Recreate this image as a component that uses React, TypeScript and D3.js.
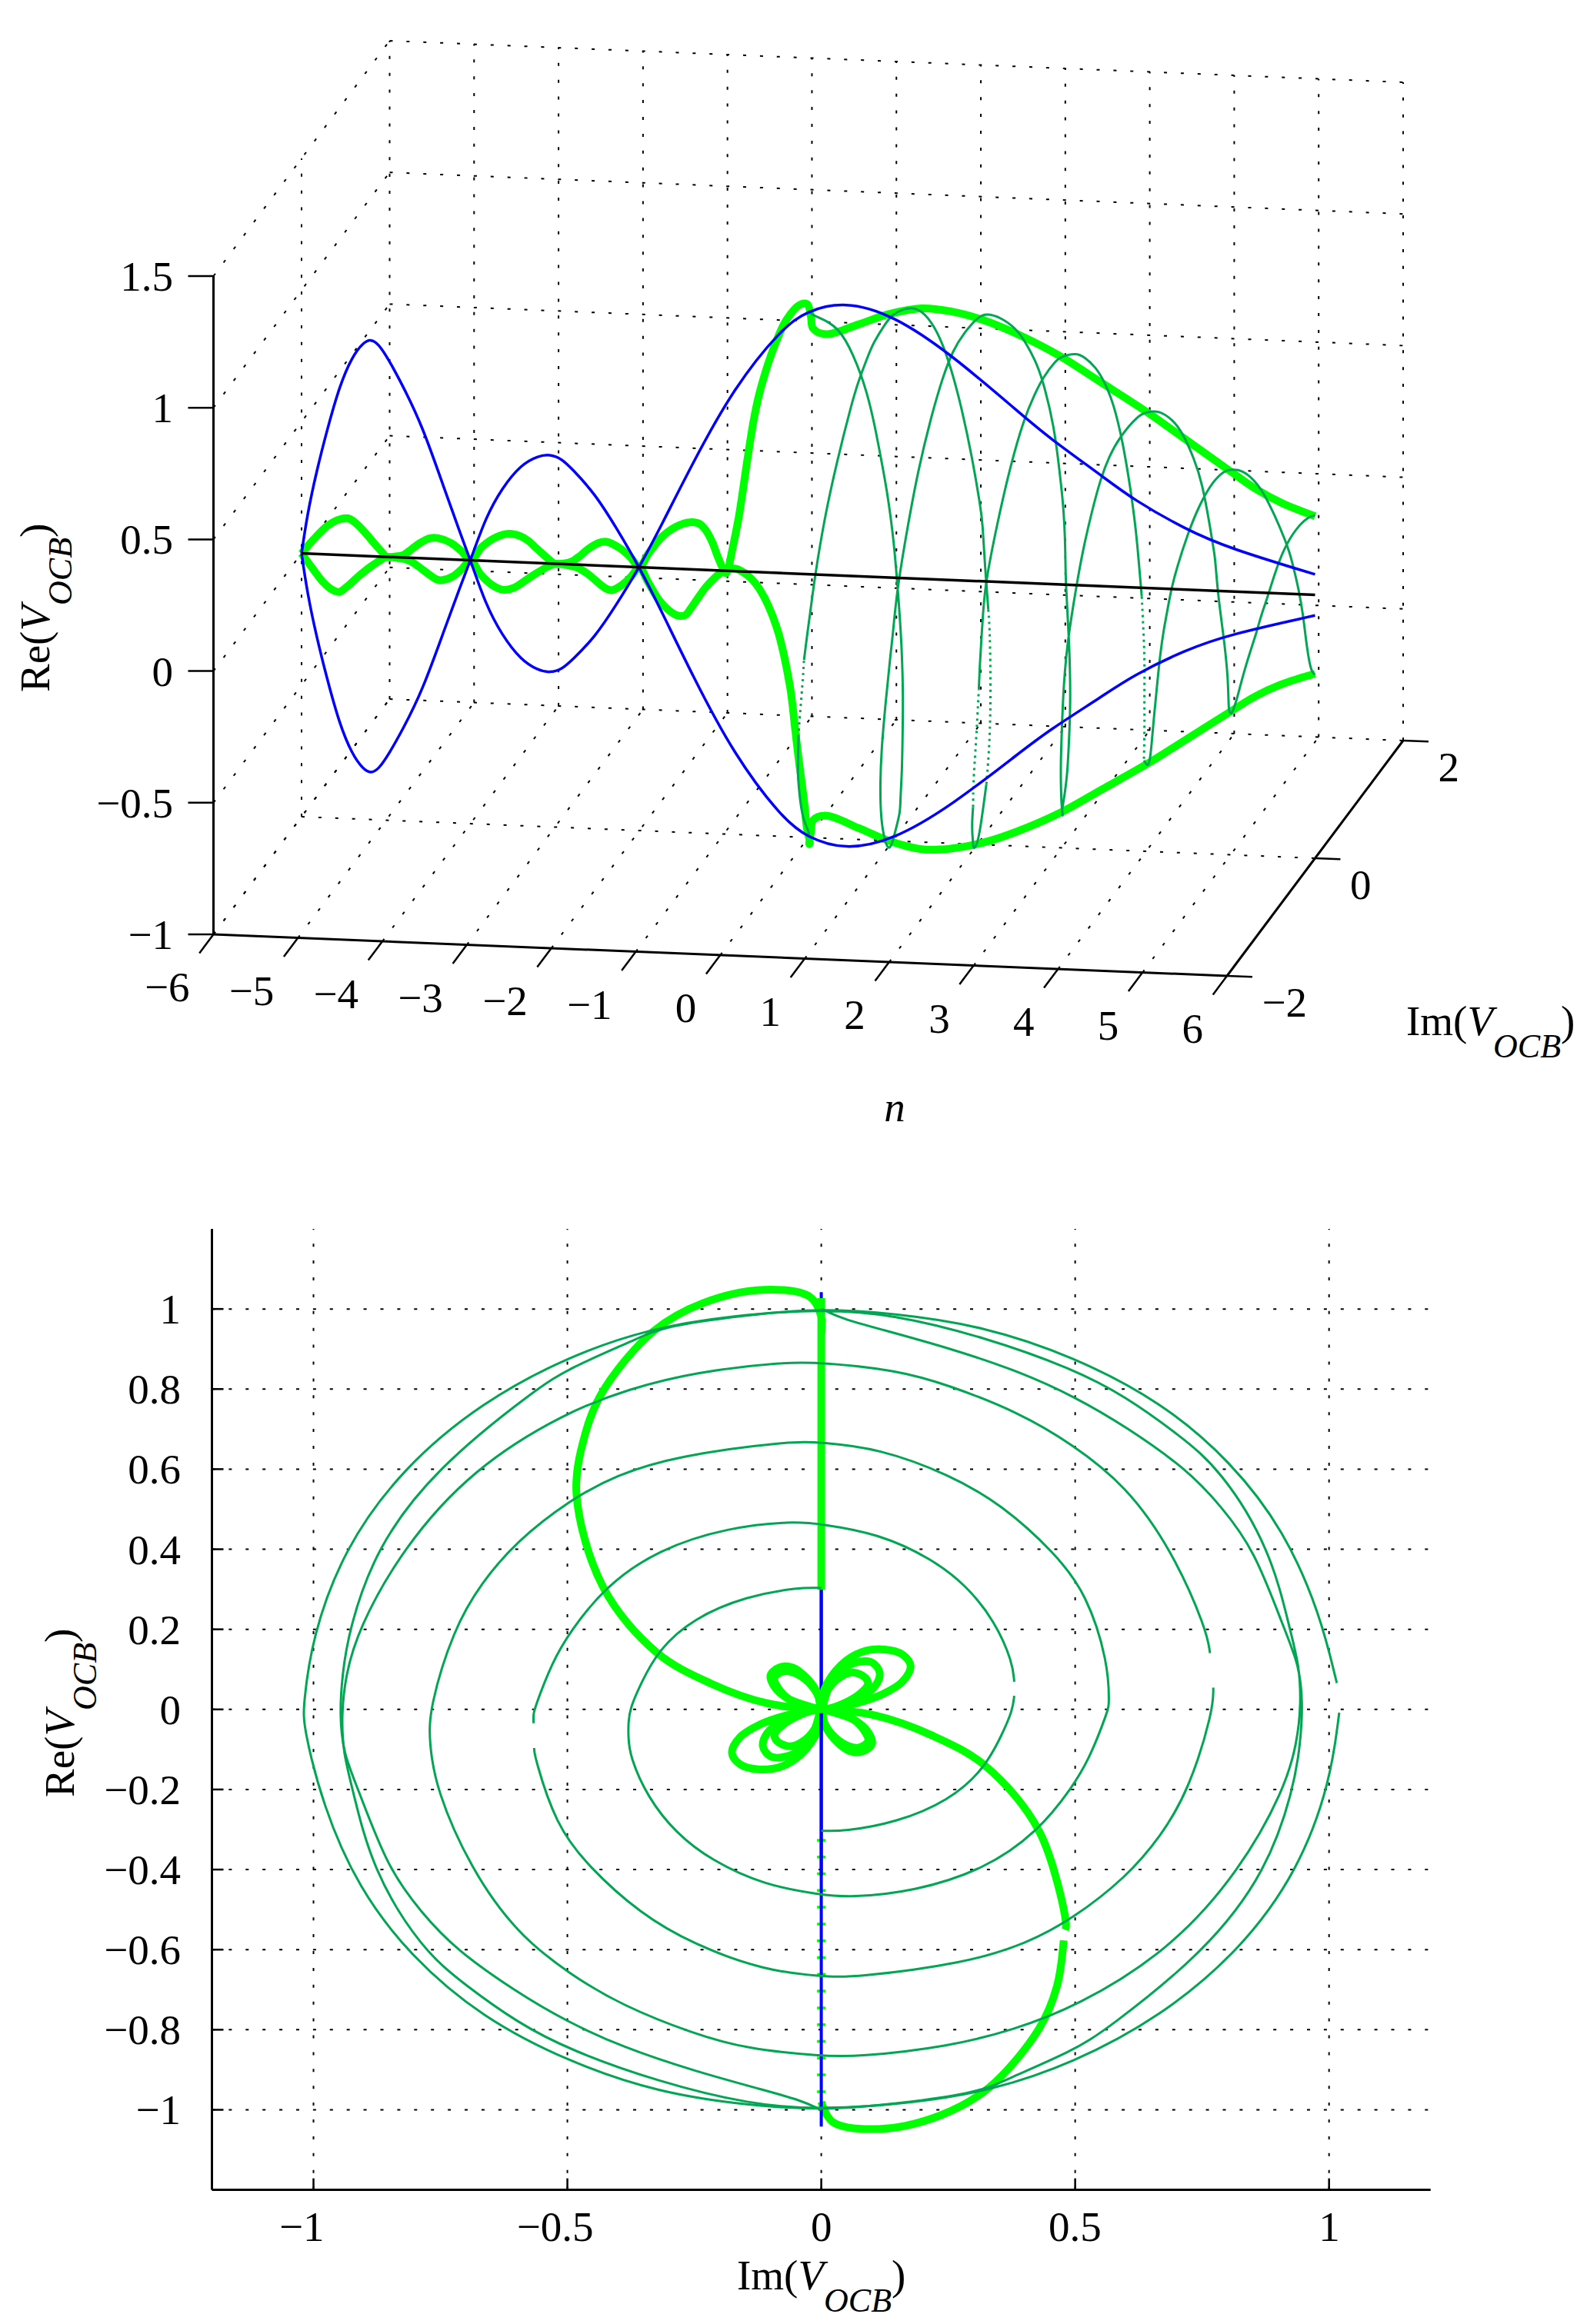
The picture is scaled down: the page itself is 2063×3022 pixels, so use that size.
import React from "react";
import * as d3 from "d3";

// samples are [n, Im, Re]
type P = number[];

const nTicks = [-6, -5, -4, -3, -2, -1, 0, 1, 2, 3, 4, 5, 6];
const imTicks3d = [-2, 0, 2];
const reTicks3d = [-1, -0.5, 0, 0.5, 1, 1.5];
const imTicks2d = [-1, -0.5, 0, 0.5, 1];
const reTicks2d = [-1, -0.8, -0.6, -0.4, -0.2, 0, 0.2, 0.4, 0.6, 0.8, 1];

// blue envelope (Im = 0), the lower one is its negative
const blueN = [-6, -5.93, -5.82, -5.7, -5.55, -5.4, -5.27, -5.18, -5.09, -4.98, -4.8, -4.57, -4.31, -4.12, -4,
  -3.82, -3.63, -3.4, -3.2, -3.06, -2.92, -2.8, -2.53, -2.27, -2, -1.74, -1.373, -0.882, -0.312, -0.016, 0.43, 0.994,
  1.687, 2.525, 2.844, 3.49, 3.836, 4.47, 4.99, 6];
const blueRe = [0, 0.153, 0.317, 0.47, 0.643, 0.756, 0.81, 0.825, 0.808, 0.756, 0.652, 0.503, 0.268, 0.1, 0,
  -0.165, -0.278, -0.372, -0.407, -0.415, -0.4, -0.364, -0.274, -0.145, 0, 0.162, 0.402, 0.697, 0.93, 1.0, 1.042, 0.999,
  0.859, 0.639, 0.557, 0.416, 0.336, 0.228, 0.163, 0.078];

// thick green, upper branch: lobes for n < -1, sweep to (0, 1), then on the Im = 0 line
const lobe1: P[] = [[-6, 0, 0], [-5.87, 0.011, 0.05], [-5.72, 0.039, 0.098], [-5.6, 0.069, 0.1175], [-5.5, 0.0996, 0.1175],
  [-5.4, 0.115, 0.092], [-5.28, 0.105, 0.0566], [-5.15, 0.069, 0.0246], [-5.04, 0.024, 0.005], [-5, 0, 0]];
const lobe2: P[] = [[-4.88, -0.0267, 0.0086], [-4.76, -0.062, 0.0246], [-4.65, -0.0847, 0.0534], [-4.55, -0.0923, 0.079],
  [-4.44, -0.0746, 0.095], [-4.36, -0.0544, 0.0919], [-4.22, -0.0267, 0.0695], [-4.1, -0.0065, 0.0342], [-4, 0, 0]];
const lobe3: P[] = [[-3.87, 0.0137, 0.05], [-3.72, 0.039, 0.082], [-3.58, 0.064, 0.092], [-3.45, 0.087, 0.079],
  [-3.37, 0.092, 0.063], [-3.25, 0.074, 0.037], [-3.13, 0.044, 0.015], [-3.05, 0.019, 0.0035], [-3, 0, 0]];
const lobe4: P[] = [[-2.88, -0.0267, 0.0086], [-2.76, -0.067, 0.0278], [-2.65, -0.0923, 0.0566], [-2.55, -0.0999, 0.0855],
  [-2.44, -0.082, 0.1047], [-2.36, -0.057, 0.1047], [-2.22, -0.0267, 0.0759], [-2.1, -0.0065, 0.0374], [-2, 0, 0]];
const lobe5: P[] = [[-1.9, 0.006, 0.05], [-1.75, 0.039, 0.111], [-1.6, 0.079, 0.143], [-1.47, 0.125, 0.1496], [-1.37, 0.16, 0.137],
  [-1.3, 0.176, 0.108], [-1.22, 0.16, 0.0695], [-1.15, 0.12, 0.0374], [-1.08, 0.069, 0.015], [-1.02, 0.019, 0.002], [-1, 0, 0]];
const sweep: P[] = [[-0.92, -0.106, 0.015], [-0.83, -0.218, 0.065], [-0.74, -0.324, 0.142], [-0.6, -0.429, 0.304], [-0.47, -0.482, 0.537],
  [-0.4, -0.464, 0.692], [-0.34, -0.429, 0.797], [-0.22, -0.33, 0.945], [-0.14, -0.2325, 1.015], [-0.04, -0.113, 1.048],
  [0, -0.022, 1.03], [0.03, 0, 0.98]];
const rail: P[] = [[0.056, 0, 0.934], [0.206, 0, 0.914], [0.6, 0, 0.957], [0.946, 0, 0.9995], [1.34, 0, 1.027], [1.687, 0, 1.02],
  [2.08, 0, 0.9915], [2.477, 0, 0.944], [2.97, 0, 0.869], [3.46, 0, 0.775], [4.05, 0, 0.66], [4.4, 0, 0.585], [4.99, 0, 0.458],
  [5.29, 0, 0.395], [5.6, 0, 0.345], [6, 0, 0.299]];

// dark green spiral, the second spiral is its negative
const turn01: P[] = [[0, 0, 1], [0.03, 0.043, 0.975], [0.06, 0.1125, 0.951], [0.11, 0.2516, 0.9026], [0.15, 0.3906, 0.844], [0.18, 0.502, 0.779],
  [0.21, 0.599, 0.707], [0.25, 0.721, 0.599], [0.29, 0.787, 0.508], [0.33, 0.853, 0.399], [0.41, 0.912, 0.199], [0.44, 0.9414, 0.11],
  [0.48, 0.9484, 0.0137], [0.52, 0.9437, -0.084], [0.56, 0.93, -0.2], [0.64, 0.8776, -0.4024], [0.73, 0.7594, -0.602], [0.82, 0.561, -0.801],
  [0.85, 0.495, -0.853], [0.9, 0.3628, -0.925], [0.93, 0.3072, -0.959], [0.97, 0.1125, -0.99]];
const turn12: P[] = [[1, 0, -1], [1.05, -0.14, -0.99], [1.11, -0.321, -0.957], [1.16, -0.495, -0.882], [1.21, -0.669, -0.769], [1.27, -0.808, -0.618],
  [1.34, -0.912, -0.446], [1.43, -0.982, -0.24], [1.51, -1.02, -0.041], [1.53, -1.02, 0.008], [1.57, -1.003, 0.18], [1.66, -0.94, 0.402],
  [1.73, -0.825, 0.602], [1.8, -0.669, 0.767], [1.85, -0.495, 0.884], [1.89, -0.335, 0.952], [1.94, -0.182, 0.983]];
const turn23: P[] = [[2, 0, 1], [2.03, 0.14, 0.987], [2.12, 0.321, 0.93], [2.2, 0.495, 0.851], [2.25, 0.599, 0.782], [2.32, 0.704, 0.686],
  [2.36, 0.787, 0.599], [2.45, 0.885, 0.399], [2.5, 0.923, 0.199], [2.52, 0.9414, 0.11], [2.54, 0.945, 0.0137], [2.555, 0.937, -0.084],
  [2.57, 0.912, -0.2], [2.66, 0.825, -0.402], [2.75, 0.686, -0.602], [2.82, 0.502, -0.743], [2.87, 0.377, -0.801], [2.91, 0.2516, -0.842],
  [2.97, 0.0707, -0.868]];
const turn34: P[] = [[3, 0, -0.866], [3.09, -0.147, -0.848], [3.14, -0.2516, -0.81], [3.2, -0.39, -0.741], [3.25, -0.495, -0.662], [3.3, -0.6, -0.559],
  [3.36, -0.69, -0.399], [3.42, -0.759, -0.199], [3.46, -0.772, -0.082], [3.49, -0.772, 0.0015], [3.57, -0.7245, 0.2], [3.62, -0.669, 0.317],
  [3.67, -0.6, 0.42], [3.72, -0.495, 0.523], [3.77, -0.4044, 0.585], [3.83, -0.2865, 0.633], [3.94, -0.064, 0.67]];
const turn45: P[] = [[4, 0, 0.667], [4.08, 0.1125, 0.652], [4.18, 0.2516, 0.587], [4.25, 0.356, 0.511], [4.33, 0.46, 0.391], [4.39, 0.523, 0.288],
  [4.46, 0.565, 0.117], [4.51, 0.567, 0.0137], [4.52, 0.565, -0.0015], [4.57, 0.53, -0.118], [4.62, 0.495, -0.194], [4.71, 0.4255, -0.307],
  [4.8, 0.321, -0.4], [4.88, 0.182, -0.455], [4.95, 0.0567, -0.47]];
const turn56: P[] = [[5, 0, -0.463], [5.07, -0.1125, -0.439], [5.17, -0.2168, -0.377], [5.25, -0.2864, -0.309], [5.34, -0.342, -0.22], [5.45, -0.377, -0.117],
  [5.5, -0.38, -0.069], [5.53, -0.38, -0.034], [5.56, -0.377, 0.0015], [5.62, -0.356, 0.063], [5.69, -0.321, 0.149], [5.76, -0.2516, 0.228],
  [5.85, -0.147, 0.283], [5.94, -0.043, 0.305], [6, 0, 0.303]];

const thickUpper = [...lobe1, ...lobe2, ...lobe3, ...lobe4, ...lobe5, ...sweep, ...rail];
const thickLower = thickUpper.map(([n, im, re]) => [n, -im, -re]);
const spiralA = [...turn01, ...turn12, ...turn23, ...turn34, ...turn45, ...turn56];
const spiralB = spiralA.map(([n, im, re]) => [n, -im, -re]);
const blueUpper = blueN.map((n, i) => [n, 0, blueRe[i]]);
const blueLower = blueN.map((n, i) => [n, 0, -blueRe[i]]);

// n ranges where the second spiral breaks up into dots / gaps
const dotted3d = [[0.32, 0.44], [1.63, 1.85], [2.31, 2.5], [3.57, 3.94]];
const gaps2d = [[1.5, 1.53], [3.44, 3.47], [4.47, 4.5], [5.5, 5.53]];

const serif = "'Liberation Serif', 'Times New Roman', serif";
const bright = "#00ff00";
const dark = "#00a651";
const blue = "#0000ff";
const grid = { stroke: "#000", strokeWidth: 2, strokeDasharray: "4 17.9", fill: "none" };
const fs = 55;
const subFs = 44;
const minus = (v: number) => (v < 0 ? "\u2212" + Math.abs(v) : String(v));

// 3D panel: each axis contributes a screen offset
const n3x = d3.scaleLinear().domain([-6, 6]).range([277.5, 1595]);
const n3y = d3.scaleLinear().domain([-6, 6]).range([1215, 1269]);
const im3x = d3.scaleLinear().domain([-2, 2]).range([0, 229]);
const im3y = d3.scaleLinear().domain([-2, 2]).range([0, -306]);
const re3y = d3.scaleLinear().domain([-1, 1.5]).range([0, -856]);
const px3 = (n: number, im: number) => n3x(n) + im3x(im);
const py3 = (n: number, im: number, re: number) => n3y(n) + im3y(im) + re3y(re);

const line3 = d3.line<P>().x((d) => px3(d[0], d[1])).y((d) => py3(d[0], d[1], d[2]));
const seg3 = (a: P, b: P) => line3.curve(d3.curveLinear)([a, b]) as string;
const path3 = (pts: P[]) => line3.curve(d3.curveCatmullRom)(pts) as string;
const smooth3 = (pts: P[]) => line3.curve(d3.curveBasis)(pts) as string;

// 2D panel
const x2 = d3.scaleLinear().domain([-1.2, 1.2]).range([275.5, 1859.7]);
const y2 = d3.scaleLinear().domain([-1.2, 1.2]).range([2847.6, 1598]);
const line2 = d3.line<P>().x((d) => x2(d[1])).y((d) => y2(d[2]));
const path2 = (pts: P[]) => line2.curve(d3.curveCatmullRom)(pts) as string;
const smooth2 = (pts: P[]) => line2.curve(d3.curveBasis)(pts) as string;

// part of a curve between two n values
function slice(pts: P[], a: number, b: number): P[] {
  const at = (t: number) => {
    const i = d3.bisector((d: P) => d[0]).left(pts, t);
    if (i <= 0) return pts[0];
    if (i >= pts.length) return pts[pts.length - 1];
    const u = (t - pts[i - 1][0]) / (pts[i][0] - pts[i - 1][0]);
    return d3.interpolateArray(pts[i - 1], pts[i])(u) as P;
  };
  return [at(a), ...pts.filter((d) => d[0] > a && d[0] < b), at(b)];
}
function between(spans: number[][], a: number, b: number) {
  const out: number[][] = [];
  let from = a;
  spans.forEach(([s, e]) => {
    out.push([from, s]);
    from = e;
  });
  out.push([from, b]);
  return out;
}

function Label({ head, x, y, rotate }: { head: string; x: number; y: number; rotate?: boolean }) {
  return (
    <text transform={`translate(${x},${y})${rotate ? " rotate(-90)" : ""}`} fontFamily={serif} fontSize={fs}>
      {head}(<tspan fontStyle="italic">V</tspan>
      <tspan dy={29} fontSize={subFs} fontStyle="italic">OCB</tspan>
      <tspan dy={-29}>)</tspan>
    </text>
  );
}

function Panel3D() {
  const solidB = between(dotted3d, 0, 6);
  const reLines = reTicks3d;
  return (
    <g>
      {/* back wall */}
      {nTicks.map((n) => (
        <path key={"bw" + n} {...grid} d={seg3([n, 2, -1], [n, 2, 1.5])} />
      ))}
      {reLines.map((r) => (
        <path key={"br" + r} {...grid} d={seg3([-6, 2, r], [6, 2, r])} />
      ))}
      {/* left wall */}
      {reLines.map((r) => (
        <path key={"lr" + r} {...grid} d={seg3([-6, -2, r], [-6, 2, r])} />
      ))}
      <path {...grid} d={seg3([-6, 0, -1], [-6, 0, 1.5])} />
      {/* floor */}
      {nTicks.map((n) => (
        <path key={"fn" + n} {...grid} d={seg3([n, -2, -1], [n, 2, -1])} />
      ))}
      <path {...grid} d={seg3([-6, 0, -1], [6, 0, -1])} />

      <path d={path3(thickUpper)} fill="none" stroke={bright} strokeWidth={10} strokeLinejoin="round" />
      <path d={path3(thickLower)} fill="none" stroke={bright} strokeWidth={10} strokeLinejoin="round" />
      <path d={smooth3(spiralA)} fill="none" stroke={dark} strokeWidth={3} />
      {solidB.map(([a, b]) => (
        <path key={"sb" + a} d={smooth3(slice(spiralB, a, b))} fill="none" stroke={dark} strokeWidth={3} />
      ))}
      {dotted3d.map(([a, b]) => (
        <path key={"db" + a} d={smooth3(slice(spiralB, a, b))} fill="none" stroke={dark} strokeWidth={3} strokeDasharray="3 5" />
      ))}
      <path d={smooth3(blueUpper)} fill="none" stroke={blue} strokeWidth={3.5} />
      <path d={smooth3(blueLower)} fill="none" stroke={blue} strokeWidth={3.5} />
      <path d={seg3([-6, 0, 0], [6, 0, 0])} stroke="#000" strokeWidth={3.5} />

      {/* axes */}
      <path d={seg3([-6, -2, -1], [-6, -2, 1.5])} stroke="#000" strokeWidth={3} />
      <path d={seg3([-6, -2, -1], [6, -2, -1])} stroke="#000" strokeWidth={3} />
      <path d={seg3([6, -2, -1], [6, 2, -1])} stroke="#000" strokeWidth={3} />
      {reTicks3d.map((r) => (
        <g key={"rt" + r}>
          <line x1={px3(-6, -2) - 33} x2={px3(-6, -2)} y1={py3(-6, -2, r)} y2={py3(-6, -2, r)} stroke="#000" strokeWidth={2.5} />
          <text x={225} y={py3(-6, -2, r) + 19} textAnchor="end" fontFamily={serif} fontSize={fs}>{minus(r)}</text>
        </g>
      ))}
      {nTicks.map((n) => (
        <g key={"nt" + n}>
          <path d={seg3([n, -2, -1], [n, -2.32, -1])} stroke="#000" strokeWidth={2.5} />
          <text x={px3(n, -2) - 31} y={py3(n, -2, -1) + 87} textAnchor="end" fontFamily={serif} fontSize={fs}>{minus(n)}</text>
        </g>
      ))}
      {imTicks3d.map((im) => (
        <g key={"it" + im}>
          <path d={seg3([6, im, -1], [6.3, im, -1])} stroke="#000" strokeWidth={2.5} />
          <text x={px3(6, im) + 45.5} y={py3(6, im, -1) + 53} fontFamily={serif} fontSize={fs}>{minus(im)}</text>
        </g>
      ))}
      <text x={1163} y={1458} textAnchor="middle" fontFamily={serif} fontSize={fs} fontStyle="italic">n</text>
      <Label head="Im" x={1828} y={1346} />
      <Label head="Re" x={64} y={900} rotate />
    </g>
  );
}

function Panel2D() {
  const solidB = between(gaps2d, 0, 6);
  const axisLeft = x2.range()[0];
  const axisBottom = y2.range()[0];
  return (
    <g>
      {imTicks2d.map((v) => (
        <g key={"gx" + v}>
          <line {...grid} x1={x2(v)} x2={x2(v)} y1={axisBottom} y2={y2.range()[1]} />
          <line x1={x2(v)} x2={x2(v)} y1={axisBottom} y2={axisBottom - 15} stroke="#000" strokeWidth={2.5} />
          <text x={x2(v) + (String(Math.abs(v)).length > 1 ? 34 : 14)} y={2914} textAnchor="end" fontFamily={serif} fontSize={fs}>{minus(v)}</text>
        </g>
      ))}
      {reTicks2d.map((v) => (
        <g key={"gy" + v}>
          <line {...grid} x1={axisLeft} x2={x2.range()[1]} y1={y2(v)} y2={y2(v)} />
          <line x1={axisLeft} x2={axisLeft + 15} y1={y2(v)} y2={y2(v)} stroke="#000" strokeWidth={2.5} />
          <text x={235} y={y2(v) + 19} textAnchor="end" fontFamily={serif} fontSize={fs}>{minus(v)}</text>
        </g>
      ))}
      {/* lower branch: solid off the centre line, dots along it */}
      <path d={path2(slice(thickLower, -6, -0.464))} fill="none" stroke={bright} strokeWidth={10} />
      <path d={path2(slice(thickLower, -0.452, 0.03))} fill="none" stroke={bright} strokeWidth={10} />
      <line x1={x2(0)} x2={x2(0)} y1={y2(-1)} y2={y2(-0.3)} stroke={bright} strokeWidth={11} strokeDasharray="3.5 18.3" />
      <path d={line2.curve(d3.curveLinear)(blueUpper) as string} fill="none" stroke={blue} strokeWidth={4} />
      <path d={line2.curve(d3.curveLinear)(blueLower) as string} fill="none" stroke={blue} strokeWidth={4} />
      <path d={path2(thickUpper)} fill="none" stroke={bright} strokeWidth={10} />
      <path d={smooth2(spiralA)} fill="none" stroke={dark} strokeWidth={3} />
      {solidB.map(([a, b]) => (
        <path key={"r" + a} d={smooth2(slice(spiralB, a, b))} fill="none" stroke={dark} strokeWidth={3} />
      ))}
      <line x1={axisLeft} x2={axisLeft} y1={y2.range()[1]} y2={axisBottom} stroke="#000" strokeWidth={3} />
      <line x1={axisLeft} x2={x2.range()[1]} y1={axisBottom} y2={axisBottom} stroke="#000" strokeWidth={3} />
      <Label head="Im" x={958} y={2977} />
      <Label head="Re" x={96} y={2337} rotate />
    </g>
  );
}

export default function App() {
  return (
    <svg width={2063} height={3022} viewBox="0 0 2063 3022" style={{ position: "absolute", left: 0, top: 0, background: "#fff" }}>
      <Panel3D />
      <Panel2D />
    </svg>
  );
}
